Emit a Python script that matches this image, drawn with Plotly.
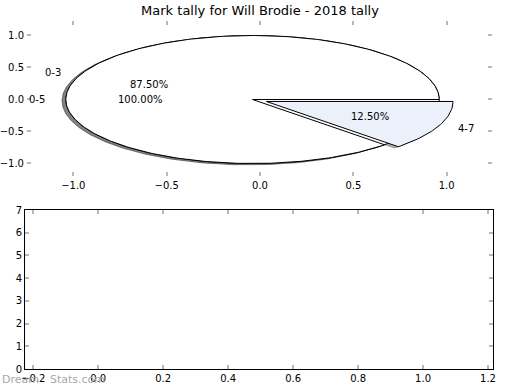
import numpy as np
import plotly.graph_objects as go

# ---------------- data ----------------
title_text = "Mark tally for Will Brodie - 2018 tally"
outer_labels = ["0-5"]
outer_values = [8]
inner_labels = ["0-3", "4-7"]
inner_values = [7, 1]
inner_explode = [0.0, 0.08]
outer_explode = [0.0]
inner_colors = ["#ffffff", "#ebf0fb"]
outer_colors = ["#ffffff"]
top_xticks = [-1.0, -0.5, 0.0, 0.5, 1.0]
top_yticks = [-1.0, -0.5, 0.0, 0.5, 1.0]
bottom_xticks = [-0.2, 0.0, 0.2, 0.4, 0.6, 0.8, 1.0, 1.2]
bottom_yticks = [0, 1, 2, 3, 4, 5, 6, 7]
watermark_parts = ["Dream", "Stats.com"]

# ---------------- style ----------------
W, H = 520, 390
FONT = "DejaVu Sans"
CENTER = (-0.04, -0.008)
RADIUS = 1.0
SHADOW_OFF = (-0.02, -0.02)
SHADOW_COLOR = "rgba(77,77,77,0.45)"
TICK_COLOR = "#b8b8b8"


def px_x(p):
    return p / W


def px_y(p):
    return 1 - p / H


def wedge_path(cx, cy, t1, t2, r=RADIUS):
    n = max(int(abs(t2 - t1) / 1.0), 2)
    th = np.radians(np.linspace(t1, t2, n + 1))
    xs = cx + r * np.cos(th)
    ys = cy + r * np.sin(th)
    if abs(t2 - t1) >= 360:
        return xs, ys
    return np.concatenate([[cx], xs, [cx]]), np.concatenate([[cy], ys, [cy]])


def pie_geometry(values, explode):
    total = float(sum(values))
    out = []
    t = 0.0
    for v, e in zip(values, explode):
        span = 360.0 * v / total
        t1, t2 = t, t + span
        mid = np.radians((t1 + t2) / 2)
        cx = CENTER[0] + e * np.cos(mid)
        cy = CENTER[1] + e * np.sin(mid)
        out.append(dict(t1=t1, t2=t2, mid=mid, cx=cx, cy=cy, pct=100.0 * v / total))
        t = t2
    return out


fig = go.Figure()
pies = [
    (outer_labels, outer_values, outer_explode, outer_colors),
    (inner_labels, inner_values, inner_explode, inner_colors),
]
geoms = [pie_geometry(v, e) for (_, v, e, _) in pies]

# shadows first (lower z-order)
for geo in geoms:
    for g in geo:
        xs, ys = wedge_path(g["cx"] + SHADOW_OFF[0], g["cy"] + SHADOW_OFF[1], g["t1"], g["t2"])
        fig.add_trace(go.Scatter(x=xs, y=ys, mode="lines", fill="toself",
                                 fillcolor=SHADOW_COLOR,
                                 line=dict(color=SHADOW_COLOR, width=1),
                                 hoverinfo="skip", showlegend=False,
                                 xaxis="x", yaxis="y"))

annotations = []
for (labels, values, explode, colors), geo in zip(pies, geoms):
    for lab, col, g in zip(labels, colors, geo):
        xs, ys = wedge_path(g["cx"], g["cy"], g["t1"], g["t2"])
        fig.add_trace(go.Scatter(x=xs, y=ys, mode="lines", fill="toself",
                                 fillcolor=col, line=dict(color="black", width=1),
                                 hoverinfo="skip", showlegend=False,
                                 xaxis="x", yaxis="y"))
        lx = g["cx"] + 1.1 * RADIUS * np.cos(g["mid"])
        ly = g["cy"] + 1.1 * RADIUS * np.sin(g["mid"])
        annotations.append(dict(x=lx, y=ly, xref="x", yref="y", text=lab,
                                showarrow=False,
                                xanchor="left" if lx > 0 else "right",
                                yanchor="middle",
                                font=dict(family=FONT, size=10, color="black")))
        pxx = g["cx"] + 0.6 * RADIUS * np.cos(g["mid"])
        pyy = g["cy"] + 0.6 * RADIUS * np.sin(g["mid"])
        annotations.append(dict(x=pxx, y=pyy, xref="x", yref="y",
                                text="%.2f%%" % g["pct"], showarrow=False,
                                xanchor="center", yanchor="middle",
                                font=dict(family=FONT, size=10, color="black")))

# empty bottom panel
fig.add_trace(go.Scatter(x=[], y=[], mode="markers", xaxis="x2", yaxis="y2",
                         showlegend=False, hoverinfo="skip"))

# watermark
wm_x = [0, 48]
for part, xp in zip(watermark_parts, wm_x):
    annotations.append(dict(x=px_x(xp), y=px_y(379), xref="paper", yref="paper",
                            text=part, showarrow=False, xanchor="left",
                            yanchor="middle",
                            font=dict(family=FONT, size=11, color="#a8a8a8")))

tick_common = dict(ticks="inside", ticklen=4, tickwidth=2, tickcolor=TICK_COLOR,
                   showgrid=False, zeroline=False, automargin=False,
                   tickfont=dict(family=FONT, size=10, color="black"))

# top axes pixel geometry
tx0, tx1, ty0, ty1 = 27, 492, 21, 176
sx, zx = 186.7, 260.0
sy, zy = 64.0, 99.0
top_xrange = [(tx0 - zx) / sx, (tx1 - zx) / sx]
top_yrange = [(zy - ty1) / sy, (zy - ty0) / sy]

# bottom axes pixel geometry
bx0, bx1, by0, by1 = 25, 493, 210, 369
bsx = (488.0 - 33.3) / 1.4
bottom_xrange = [-0.2 - (33.3 - bx0) / bsx, 1.2 + (bx1 - 488.0) / bsx]

fig.update_layout(
    template="none",
    width=W, height=H,
    margin=dict(l=0, r=0, t=0, b=0, pad=0, autoexpand=False),
    paper_bgcolor="white", plot_bgcolor="white",
    showlegend=False,
    title=dict(text=title_text, x=0.5, xanchor="center", y=px_y(10),
               yanchor="middle", font=dict(family=FONT, size=13, color="black")),
    xaxis=dict(domain=[px_x(tx0), px_x(tx1)], range=top_xrange,
               tickvals=top_xticks, tickformat=".1f", anchor="y",
               showline=True, linecolor="rgba(0,0,0,0)", mirror="ticks",
               **tick_common),
    yaxis=dict(domain=[px_y(ty1), px_y(ty0)], range=top_yrange,
               tickvals=top_yticks, tickformat=".1f", anchor="x",
               showline=True, linecolor="rgba(0,0,0,0)", mirror="ticks",
               **tick_common),
    xaxis2=dict(domain=[px_x(bx0), px_x(bx1)], range=bottom_xrange,
                tickvals=bottom_xticks, tickformat=".1f", anchor="y2",
                showline=True, linecolor="black", linewidth=1, mirror="ticks",
                **tick_common),
    yaxis2=dict(domain=[px_y(by1), px_y(by0)], range=[0, 7],
                tickvals=bottom_yticks, tickformat="d", anchor="x2",
                showline=True, linecolor="black", linewidth=1, mirror="ticks",
                **tick_common),
    annotations=annotations,
)

fig.write_html(
    "out.html",
    config={"displayModeBar": False},
    post_script="document.body.style.margin='0px';document.body.style.overflow='hidden';",
)
